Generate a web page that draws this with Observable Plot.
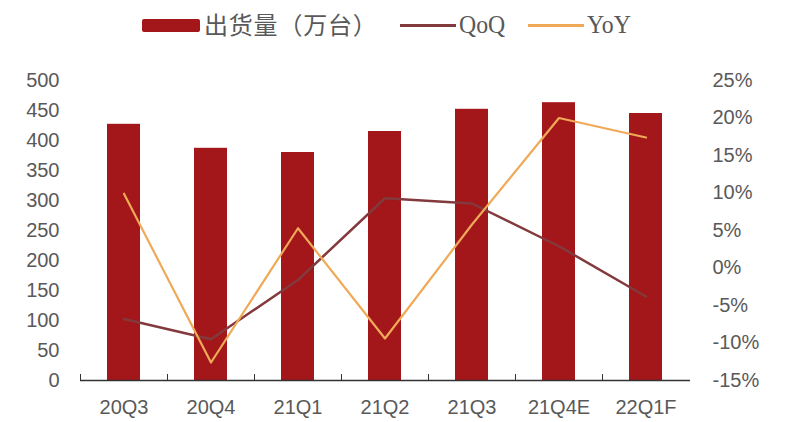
<!DOCTYPE html>
<html>
<head>
<meta charset="utf-8">
<script src="https://cdn.jsdelivr.net/npm/d3@7"></script>
<script src="https://cdn.jsdelivr.net/npm/@observablehq/plot@0.6"></script>
<style>
  html, body { margin: 0; padding: 0; background: #fff; }
  #wrap { position: relative; width: 800px; height: 422px; overflow: hidden; }
  #legend { position: relative; width: 800px; height: 50px; font-family: "Noto Sans CJK SC", "Liberation Sans", sans-serif; color: #595959; }
  .sw { position: absolute; }
  .lt { position: absolute; top: 9px; font-size: 23px; line-height: 32px; white-space: nowrap; }
  .cn { font-size: 24px; letter-spacing: 0.8px; top: 8px; }
  .serif { font-family: "Liberation Serif", "DejaVu Serif", serif; font-size: 25px; transform: scaleX(0.95); transform-origin: left center; }
</style>
</head>
<body>
<div id="wrap">
  <div id="legend">
    <div class="sw" style="left:142px; top:19px; width:58px; height:13px; background:#a3161a; border-radius:2px;"></div>
    <div class="lt cn" style="left:204px;">出货量（万台）</div>
    <div class="sw" style="left:400px; top:24px; width:56px; height:3px; background:#833a3d;"></div>
    <div class="lt serif" style="left:459px;">QoQ</div>
    <div class="sw" style="left:528px; top:24px; width:56px; height:3px; background:#efa957;"></div>
    <div class="lt serif" style="left:587px;">YoY</div>
  </div>
  <div id="chart"></div>
</div>
<script>
const quarters = ["20Q3", "20Q4", "21Q1", "21Q2", "21Q3", "21Q4E", "22Q1F"];
const shipments = [427, 387, 380, 415, 452, 463, 445];
const qoq = [-6.8, -9.5, -1.6, 9.3, 8.6, 2.9, -3.8];
const yoy = [9.9, -12.6, 5.3, -9.4, 5.8, 20.0, 17.4];
const leftTicks = [0, 50, 100, 150, 200, 250, 300, 350, 400, 450, 500];
const rightTicks = [-15, -10, -5, 0, 5, 10, 15, 20, 25];

// map the right-axis percentage domain [-15, 25] onto the left-axis domain [0, 500]
const pctMin = -15, pctMax = 25, leftMax = 500;
const toLeft = p => (p - pctMin) / (pctMax - pctMin) * leftMax;
const fromLeft = v => v / leftMax * (pctMax - pctMin) + pctMin;

const data = quarters.map((q, i) => ({q, v: shipments[i], qoq: qoq[i], yoy: yoy[i]}));

const font = "Liberation Sans, Arial, sans-serif";
const chart = Plot.plot({
  width: 800,
  height: 372,
  marginLeft: 80,
  marginRight: 110,
  marginTop: 30,
  marginBottom: 42,
  style: {fontFamily: font, background: "#fff"},
  x: {type: "band", domain: quarters, paddingInner: 0.62, paddingOuter: 0.31, label: null},
  y: {domain: [0, 500], label: null},
  marks: [
    Plot.barY(data, {x: "q", y: "v", fill: "#a3161a"}),
    Plot.lineY(data, {x: "q", y: d => toLeft(d.qoq), stroke: "#833a3d", strokeWidth: 2.5}),
    Plot.lineY(data, {x: "q", y: d => toLeft(d.yoy), stroke: "#efa957", strokeWidth: 2.2}),
    Plot.ruleY([0], {stroke: "#333", strokeWidth: 1.3}),
    Plot.axisX({tickSize: -6, dx: -43.5, text: null, stroke: "#333", label: null}),
    Plot.axisX({tickSize: 0, tickPadding: 19, fontSize: 20, fill: "#595959", label: null}),
    Plot.axisY({anchor: "left", ticks: leftTicks, tickSize: 0, tickPadding: 21, fontSize: 20, fill: "#595959", label: null}),
    Plot.axisY({anchor: "right", ticks: rightTicks.map(toLeft), tickFormat: v => Math.round(fromLeft(v)) + "%",
      tickSize: 0, tickPadding: 22, textAnchor: "start", fontSize: 20, fill: "#595959", label: null})
  ]
});
document.getElementById("chart").appendChild(chart);
</script>
</body>
</html>
